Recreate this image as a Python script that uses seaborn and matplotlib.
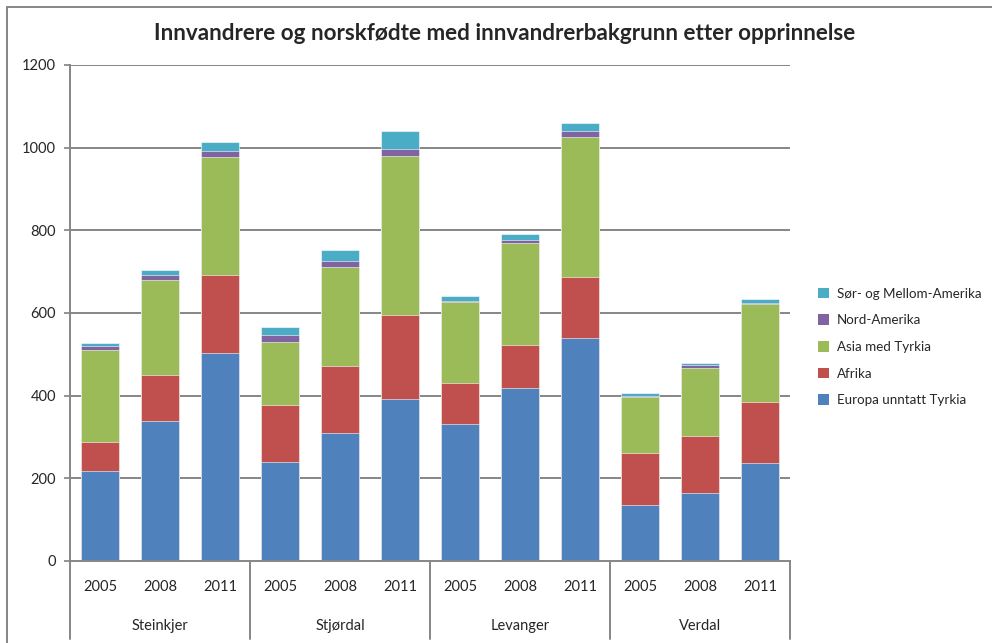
import matplotlib
matplotlib.use("Agg")
import matplotlib.pyplot as plt
import seaborn as sns
import pandas as pd
import numpy as np
from matplotlib.patches import Patch
from matplotlib.lines import Line2D

municipalities = ["Steinkjer", "Stjørdal", "Levanger", "Verdal"]
years = ["2005", "2008", "2011"]

europa = [218, 338, 504, 240, 309, 391, 332, 419, 540, 135, 165, 236]
afrika = [69, 113, 189, 138, 163, 205, 99, 104, 147, 126, 137, 149]
asia = [224, 230, 284, 151, 239, 383, 196, 246, 338, 135, 165, 236]
nord_amerika = [9, 12, 16, 18, 14, 17, 3, 8, 15, 4, 6, 4]
sor_amerika = [8, 10, 21, 18, 28, 44, 10, 13, 20, 7, 5, 10]

series_names = ["Europa unntatt Tyrkia", "Afrika", "Asia med Tyrkia",
                "Nord-Amerika", "Sør- og Mellom-Amerika"]
series_values = [europa, afrika, asia, nord_amerika, sor_amerika]
colors = ["#4F81BD", "#C0504D", "#9BBB59", "#8064A2", "#4BACC6"]

title = "Innvandrere og norskfødte med innvandrerbakgrunn etter opprinnelse"

sns.set_theme(style="white")
plt.rcParams["font.family"] = ["Lato", "DejaVu Sans"]

slots = [f"{m} {y}" for m in municipalities for y in years]
cum = np.zeros(len(slots))
cums = []
for vals in series_values:
    cum = cum + np.array(vals)
    cums.append(cum.copy())

fig = plt.figure(figsize=(9.92, 6.43), dpi=100)
ax = fig.add_axes([70/992, 82/643, 720/992, 496/643])

grid_color = "#868686"
for v in range(200, 1201, 200):
    ax.axhline(v, color=grid_color, lw=1.4, zorder=0)

for i in range(len(series_values) - 1, -1, -1):
    d = pd.DataFrame({"slot": slots, "val": cums[i]})
    sns.barplot(data=d, x="slot", y="val", order=slots, color=colors[i],
                saturation=1, width=0.64, edgecolor="white", linewidth=0.4,
                ax=ax, zorder=2)

ax.set_xlim(-0.5, len(slots) - 0.5)
ax.set_ylim(0, 1200)
ax.set_yticks(range(0, 1201, 200))
ax.set_yticklabels([str(v) for v in range(0, 1201, 200)], fontsize=10.5)
ax.tick_params(axis="y", length=4, color=grid_color, pad=6, left=True)
ax.set_xticks([])
ax.set_xlabel("")
ax.set_ylabel("")
for s in ["top", "right"]:
    ax.spines[s].set_visible(False)
ax.spines["left"].set_color(grid_color)
ax.spines["left"].set_linewidth(1.4)
ax.spines["bottom"].set_color(grid_color)
ax.spines["bottom"].set_linewidth(1.4)

# two-level category labels
trans = ax.get_xaxis_transform()
axis_h = 496
for i, s in enumerate(slots):
    ax.text(i, -26/axis_h, years[i % 3], transform=trans, ha="center",
            va="center", fontsize=10.5, clip_on=False)
for g, m in enumerate(municipalities):
    ax.text(g*3 + 1, -65/axis_h, m, transform=trans, ha="center",
            va="center", fontsize=10.5, clip_on=False)
for b in [-0.5, 2.5, 5.5, 8.5, 11.5]:
    ax.add_line(Line2D([b, b], [0, -78/axis_h], transform=trans,
                       color=grid_color, lw=1.4, clip_on=False))

# legend
handles = [Patch(facecolor=colors[i], edgecolor="none", label=series_names[i])
           for i in range(len(series_names) - 1, -1, -1)]
fig.legend(handles=handles, loc="center left", bbox_to_anchor=(807/992, 1 - 347/643),
           frameon=False, fontsize=9.6, handlelength=0.85, handleheight=0.85,
           handletextpad=0.6, labelspacing=1.1, borderpad=0.3)

fig.text(505/992, 1 - 33/643, title, ha="center", va="center",
         fontsize=16.2, fontweight="bold")

# figure frame (left and top visible)
fig.add_artist(Line2D([7/992, 7/992], [0, 1 - 7/643], transform=fig.transFigure,
                      color="#868686", lw=1.4))
fig.add_artist(Line2D([7/992, 1], [1 - 7/643, 1 - 7/643], transform=fig.transFigure,
                      color="#868686", lw=1.4))

fig.savefig("out.png", dpi=100)
